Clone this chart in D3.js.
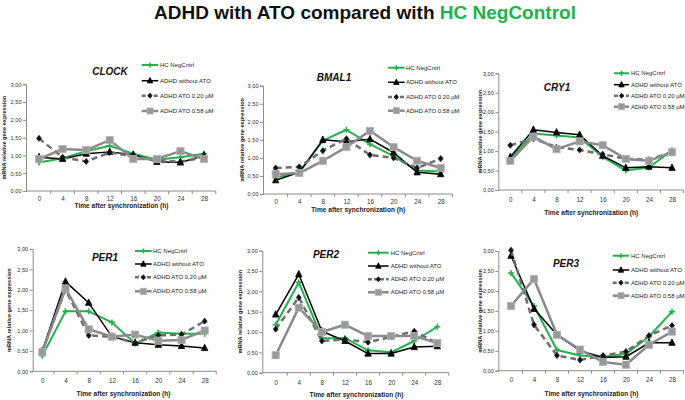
<!DOCTYPE html>
<html><head><meta charset="utf-8">
<script src="https://cdn.jsdelivr.net/npm/d3@7"></script>
<style>body{margin:0;background:#fff}svg{display:block}text{font-family:"Liberation Sans",Arial,sans-serif}</style>
</head><body>
<svg id="c" width="685" height="400"></svg>
<script>
const categories = ["0","4","8","12","16","20","24","28"];
const yTicks = [0,0.5,1,1.5,2,2.5,3];
const seriesNames = ["HC NegCntrl","ADHD without ATO","ADHD ATO 0.20 \u00b5M","ADHD ATO 0.58 \u00b5M"];
const genes = ["CLOCK","BMAL1","CRY1","PER1","PER2","PER3"];

const clockHC   = [0.80,0.92,1.12,1.27,1.05,0.88,0.95,1.05];
const clockADHD = [0.95,0.90,1.05,1.10,1.02,0.82,0.80,1.00];
const clockA20  = [1.48,0.95,0.83,1.08,0.98,0.85,0.82,0.95];
const clockA58  = [0.90,1.18,1.15,1.43,0.90,0.90,1.12,0.90];

const bmalHC   = [0.45,0.60,1.48,1.78,1.38,1.05,0.65,0.62];
const bmalADHD = [0.38,0.60,1.50,1.45,1.52,1.15,0.60,0.55];
const bmalA20  = [0.72,0.75,1.20,1.53,1.08,1.00,0.72,0.98];
const bmalA58  = [0.55,0.58,0.92,1.30,1.75,1.30,0.92,0.72];

const cryHC   = [0.80,1.45,1.40,1.35,0.85,0.50,0.58,1.02];
const cryADHD = [0.85,1.55,1.48,1.42,0.88,0.57,0.60,0.57];
const cryA20  = [1.15,1.32,1.10,1.03,0.92,0.80,0.78,0.97];
const cryA58  = [0.75,1.37,1.05,1.25,1.15,0.80,0.75,0.97];

const per1HC   = [0.38,1.47,1.47,1.20,0.68,0.95,0.92,0.92];
const per1ADHD = [0.50,2.20,1.68,0.85,0.70,0.65,0.62,0.57];
const per1A20  = [0.50,2.00,0.88,0.85,0.70,0.88,0.90,1.23];
const per1A58  = [0.47,2.03,1.03,0.85,0.90,0.75,0.77,1.00];

const per2HC   = [1.18,2.22,0.85,0.85,0.55,0.50,0.78,1.13];
const per2ADHD = [1.43,2.42,1.02,0.78,0.47,0.47,0.63,0.65];
const per2A20  = [1.07,1.85,0.78,0.82,0.75,0.88,1.02,0.72];
const per2A58  = [0.43,1.60,1.00,1.18,0.90,0.90,0.90,0.73];

const per3HC   = [2.45,1.62,0.52,0.38,0.35,0.42,0.85,1.48];
const per3ADHD = [2.88,1.55,0.90,0.50,0.33,0.35,0.70,0.70];
const per3A20  = [3.02,1.15,0.38,0.27,0.38,0.48,0.88,1.13];
const per3A58  = [1.62,2.30,0.90,0.53,0.22,0.15,0.65,0.98];

const geneData = [
  [clockHC,clockADHD,clockA20,clockA58],
  [bmalHC,bmalADHD,bmalA20,bmalA58],
  [cryHC,cryADHD,cryA20,cryA58],
  [per1HC,per1ADHD,per1A20,per1A58],
  [per2HC,per2ADHD,per2A20,per2A58],
  [per3HC,per3ADHD,per3A20,per3A58]
];

// layout per panel
const layout = [
  {ax:26, x0:39, x1:204, yt:84.3, yb:191, xl:199, xt:206, tx:110, ty:71, lg:[141.7,158.3,160], ly:[65,80.7,95.7,111], yl:4},
  {ax:263, x0:275.7, x1:440.7, yt:85.7, yb:194, xl:202, xt:209.5, tx:334, ty:77, lg:[388,404.7,406], ly:[67.7,82.3,97,110.7], yl:242},
  {ax:498.3, x0:510.3, x1:672, yt:73.3, yb:190, xl:200, xt:213, tx:557, ty:87, lg:[614,629,631], ly:[73.3,84.7,95.7,106.7], yl:480},
  {ax:32.7, x0:42.3, x1:204.7, yt:249, yb:371.3, xl:380.3, xt:393.3, tx:105, ty:257, lg:[135,151.7,153], ly:[251,264,277.3,291.3], yl:8.5},
  {ax:262.3, x0:275.7, x1:437.3, yt:250.7, yb:372.7, xl:382.7, xt:394.3, tx:326, ty:254, lg:[368,388.7,390.7], ly:[252.7,266,279.3,292.3], yl:240},
  {ax:498.3, x0:511, x1:672, yt:251, yb:370.7, xl:380, xt:393.3, tx:566, ty:263, lg:[612.7,629.3,631], ly:[255.7,270,282.7,295.7], yl:480}
];

const styles = [
  {stroke:"#22b14c", w:2, dash:null, marker:"plus", mfill:"#22b14c", mstroke:"#22b14c", ms:3},
  {stroke:"#000", w:1.5, dash:null, marker:"tri", mfill:"#000", mstroke:"#000", ms:3.2},
  {stroke:"#6e6e6e", w:2.5, dash:"6,4", marker:"diamond", mfill:"#111", mstroke:"#111", ms:3},
  {stroke:"#8a8a8a", w:2.5, dash:null, marker:"square", mfill:"#999", mstroke:"#b5b5b5", ms:3.6}
];

const svg = d3.select("#c");

svg.append("text").attr("x",365).attr("y",19).attr("text-anchor","middle")
  .attr("font-size",19).attr("font-weight","bold").attr("fill","#111")
  .call(t=>{t.append("tspan").text("ADHD with ATO compared with ");
            t.append("tspan").attr("fill","#1db34a").text("HC NegControl");});

function drawMarker(g, type, x, y, s, st){
  let el;
  if(type==="tri"){
    el = g.append("path").attr("d",`M${x},${y-s*1.2}L${x+s},${y+s*0.8}L${x-s},${y+s*0.8}Z`);
  } else if(type==="diamond"){
    el = g.append("path").attr("d",`M${x},${y-s}L${x+s*0.8},${y}L${x},${y+s}L${x-s*0.8},${y}Z`);
  } else if(type==="square"){
    el = g.append("rect").attr("x",x-s).attr("y",y-s).attr("width",2*s).attr("height",2*s);
  } else {
    el = g.append("path").attr("d",`M${x-s},${y}L${x+s},${y}M${x},${y-s}L${x},${y+s}`).attr("stroke-width",1.6);
  }
  el.attr("fill",st.mfill).attr("stroke",st.mstroke);
  if(type!=="plus") el.attr("stroke-width",0.8);
}

genes.forEach((gene,i)=>{
  const L = layout[i];
  const g = svg.append("g");
  const x = d3.scalePoint().domain(categories).range([L.x0,L.x1]);
  const step = x.step();
  const y = d3.scaleLinear().domain([0,3]).range([L.yb,L.yt]);
  const xEnd = L.x1 + step/2;

  // y axis
  const yAxis = g.append("g").attr("transform",`translate(${L.ax},0)`)
    .call(d3.axisLeft(y).tickValues(yTicks).tickSize(3).tickFormat(d=>d3.format(".2f")(d).replace(".",",")));
  yAxis.select(".domain").attr("stroke","#8c8c8c");
  yAxis.selectAll(".tick line").attr("stroke","#8c8c8c");
  yAxis.selectAll(".tick text").attr("font-size",5.6).attr("fill","#333").attr("x",-4.5)
    .attr("font-family","Liberation Sans, Arial, sans-serif");

  // x axis
  const xAxis = g.append("g").attr("transform",`translate(0,${L.yb})`)
    .call(d3.axisBottom(x).tickSize(0).tickPadding(0));
  xAxis.select(".domain").attr("d",`M${L.ax},0H${xEnd}`).attr("stroke","#8c8c8c");
  xAxis.selectAll(".tick text").attr("font-size",6.3).attr("fill","#333")
    .attr("y",L.xl - L.yb + 2.3).attr("dy",0).attr("font-family","Liberation Sans, Arial, sans-serif");
  categories.forEach((c,k)=>{
    const bx = x(c) - step/2;
    if(k>0) g.append("line").attr("x1",bx).attr("x2",bx).attr("y1",L.yb).attr("y2",L.yb+3).attr("stroke","#8c8c8c");
  });
  g.append("line").attr("x1",xEnd).attr("x2",xEnd).attr("y1",L.yb).attr("y2",L.yb+3).attr("stroke","#8c8c8c");

  g.append("text").attr("x",(L.x0+L.x1)/2).attr("y",L.xt+2.3).attr("text-anchor","middle")
    .attr("font-size",6.6).attr("font-weight","bold").attr("fill","#222").text("Time after synchronization  (h)");

  g.append("text").attr("transform",`translate(${L.yl+2},${(L.yt+L.yb)/2}) rotate(-90)`)
    .attr("text-anchor","middle").attr("font-size",5.6).attr("font-weight","bold").attr("fill","#222")
    .text("mRNA relative gene expression");

  g.append("text").attr("x",L.tx).attr("y",L.ty+3.5).attr("text-anchor","middle")
    .attr("font-size",10).attr("font-weight","bold").attr("font-style","italic").attr("fill","#111").text(gene);

  // series
  geneData[i].forEach((vals,s)=>{
    const st = styles[s];
    const line = d3.line().x((d,k)=>x(categories[k])).y(d=>y(d));
    g.append("path").attr("d",line(vals)).attr("fill","none").attr("stroke",st.stroke)
      .attr("stroke-width",st.w).attr("stroke-dasharray",st.dash).attr("stroke-linejoin","round");
    vals.forEach((v,k)=>drawMarker(g, st.marker, x(categories[k]), y(v), st.ms, st));
  });

  // legend
  seriesNames.forEach((name,s)=>{
    const st = styles[s];
    const ly = L.ly[s];
    g.append("line").attr("x1",L.lg[0]).attr("x2",L.lg[1]).attr("y1",ly).attr("y2",ly)
      .attr("stroke",st.stroke).attr("stroke-width",st.w).attr("stroke-dasharray",st.dash?"4,2":null);
    drawMarker(g, st.marker, (L.lg[0]+L.lg[1])/2, ly, st.ms*0.85, st);
    g.append("text").attr("x",L.lg[2]).attr("y",ly+2.1).attr("font-size",6).attr("fill","#222").text(name);
  });
});
</script>
</body></html>
